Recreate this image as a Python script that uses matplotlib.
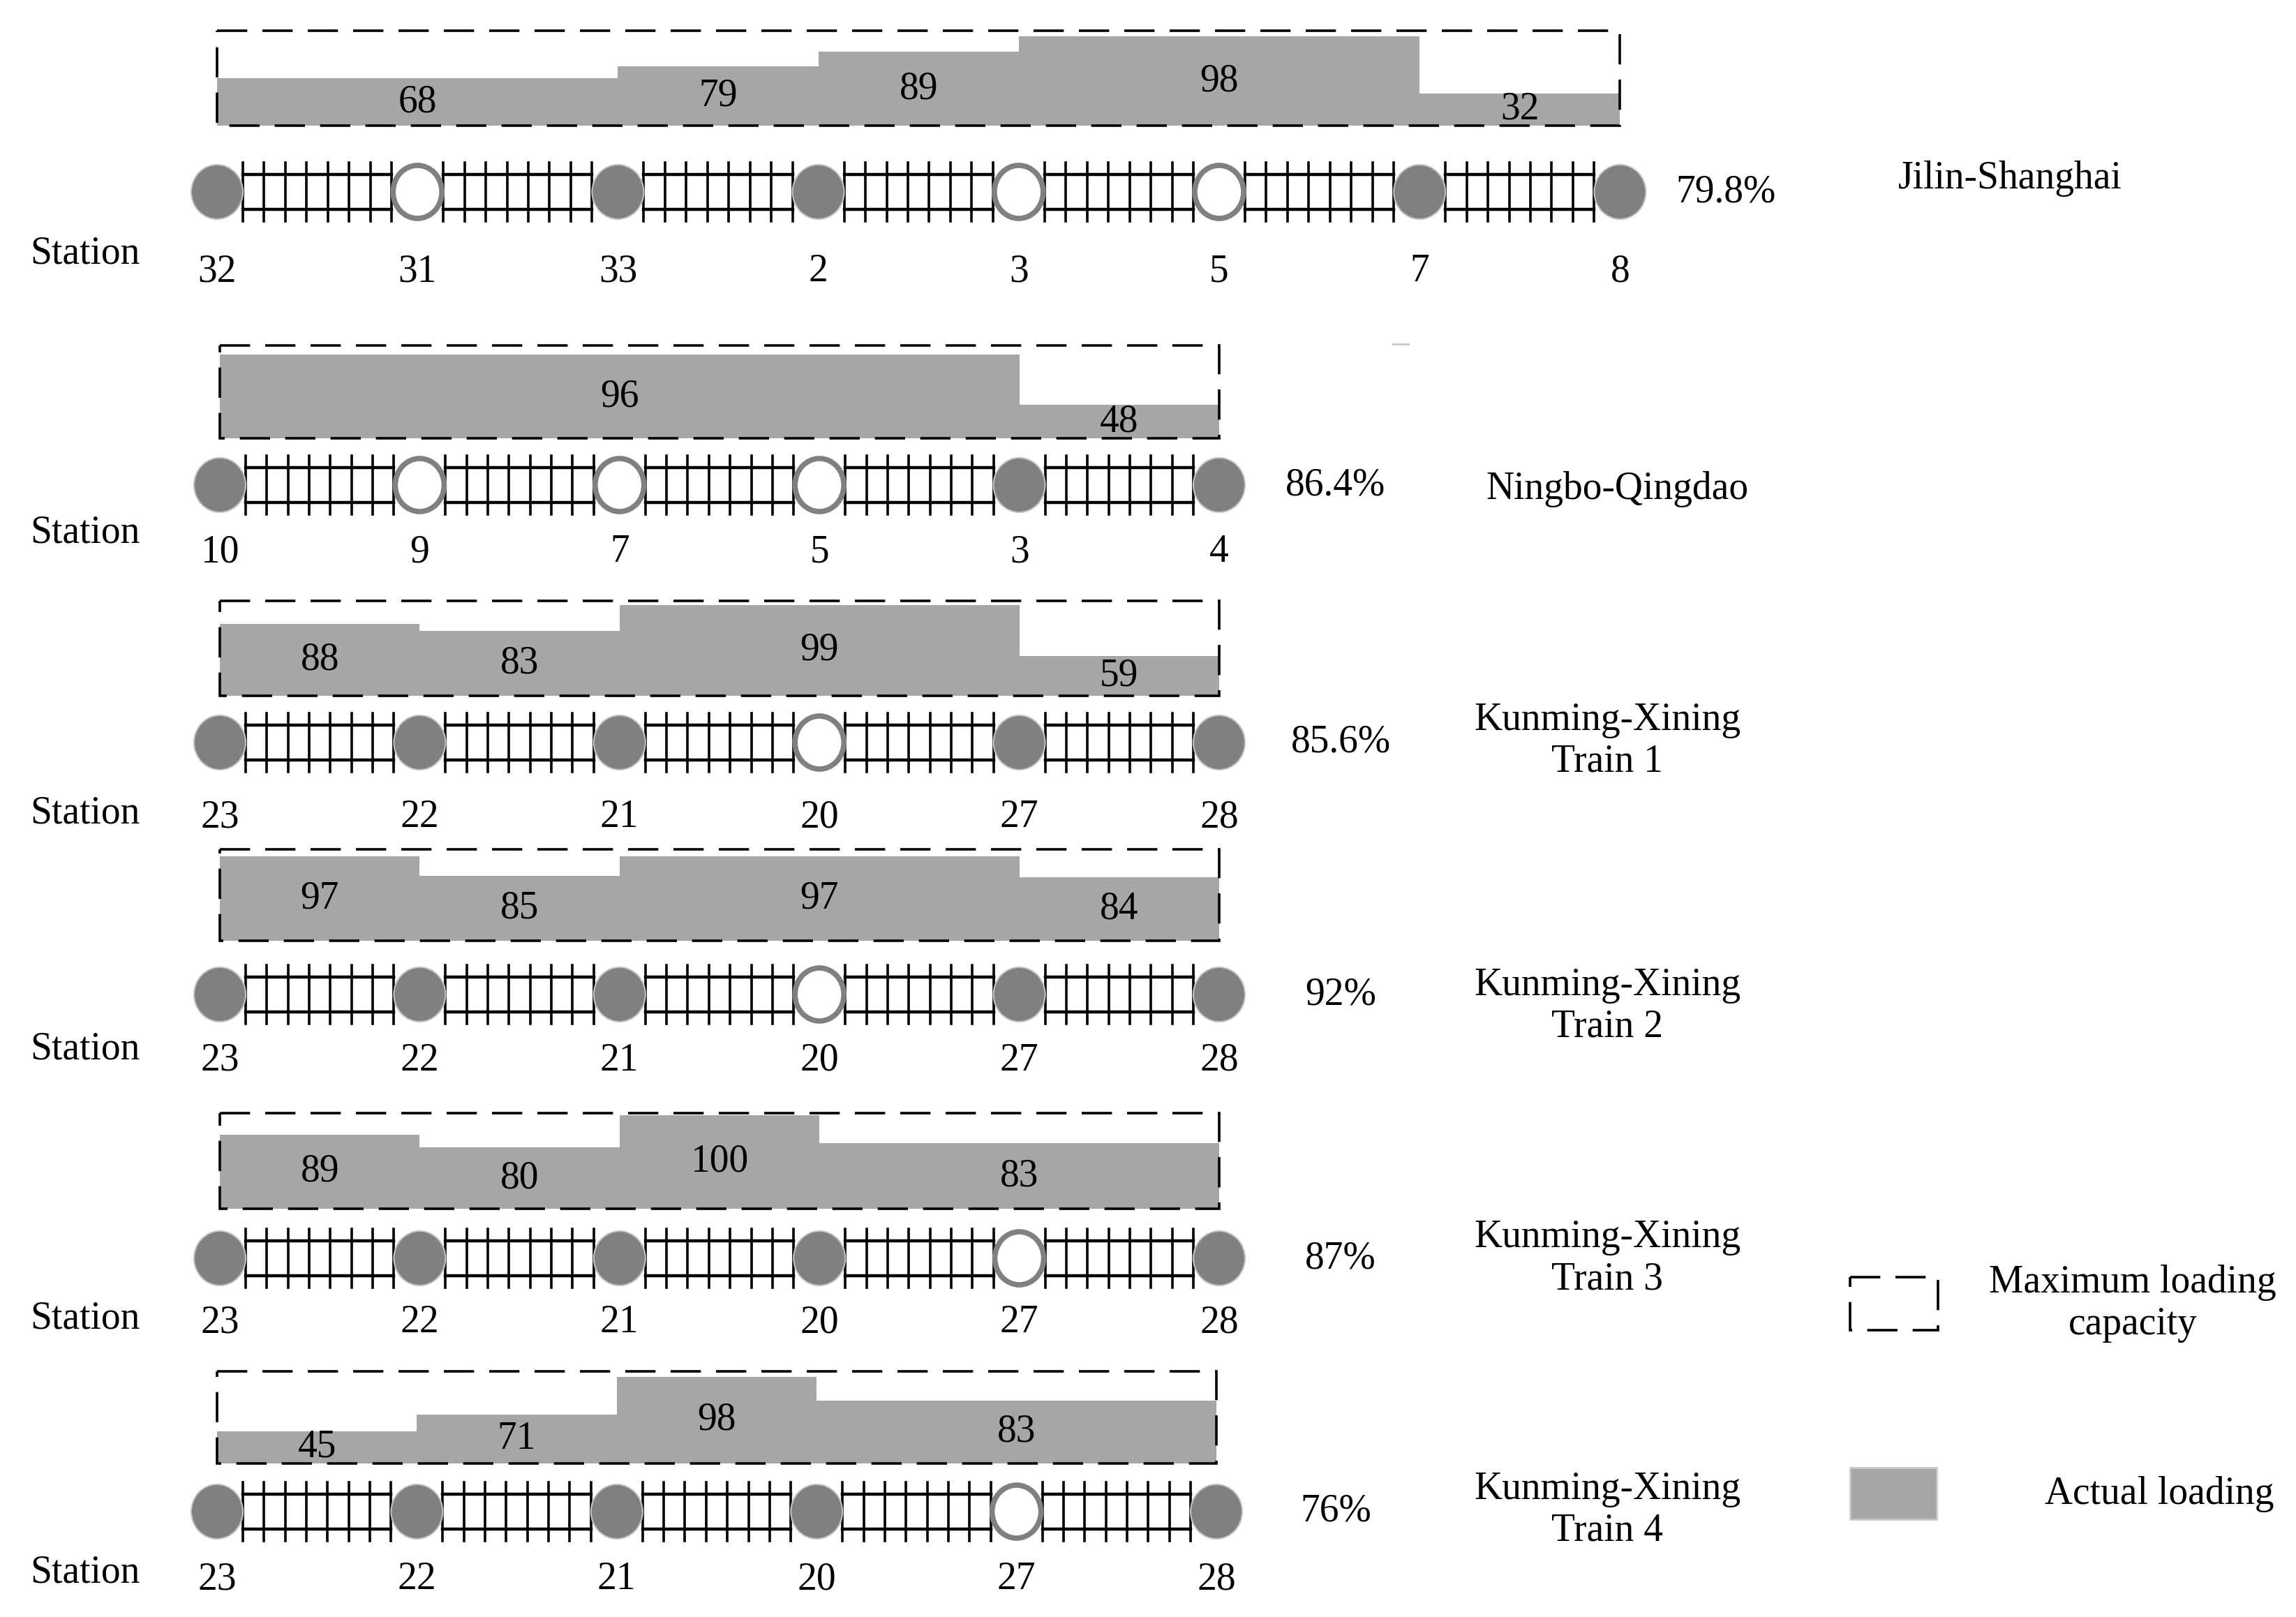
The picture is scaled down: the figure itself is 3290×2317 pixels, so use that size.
import matplotlib.pyplot as plt
from matplotlib.patches import Ellipse, Rectangle

plt.rcParams['font.family'] = ['Liberation Serif', 'DejaVu Serif']

# ---- data ----
routes = ["Jilin-Shanghai", "Ningbo-Qingdao", "Kunming-Xining\nTrain 1",
          "Kunming-Xining\nTrain 2", "Kunming-Xining\nTrain 3", "Kunming-Xining\nTrain 4"]
station_ids = [
    [32, 31, 33, 2, 3, 5, 7, 8],
    [10, 9, 7, 5, 3, 4],
    [23, 22, 21, 20, 27, 28],
    [23, 22, 21, 20, 27, 28],
    [23, 22, 21, 20, 27, 28],
    [23, 22, 21, 20, 27, 28],
]
# stations drawn as hollow circles (no loading / unloading)
open_stations = [[31, 3, 5], [9, 7, 5], [20], [20], [27], [27]]
load_values = [
    [68, 79, 89, 98, 32],
    [96, 48],
    [88, 83, 99, 59],
    [97, 85, 97, 84],
    [89, 80, 100, 83],
    [45, 71, 98, 83],
]
# station index where each loading level starts / ends
load_spans = [
    [0, 2, 3, 4, 6, 7],
    [0, 4, 5],
    [0, 1, 2, 4, 5],
    [0, 1, 2, 4, 5],
    [0, 1, 2, 3, 5],
    [0, 1, 2, 3, 5],
]
rates = ["79.8%", "86.4%", "85.6%", "92%", "87%", "76%"]

# ---- layout (pixels) ----
W, H = 3291, 2317
row_x0 = [311, 315, 315, 315, 315, 311]
row_dx = [287.2, 286.4, 286.4, 286.4, 286.4, 286.4]
box_top = [44, 495, 861, 1217, 1595, 1965]
box_bot = [180, 628, 997, 1348, 1732, 2097]
track_y = [275, 695, 1064, 1425, 1803, 2166]
label_y = [389, 791, 1171, 1520, 1895, 2263]
station_word_y = [363, 764, 1165, 1503, 1889, 2254]
pct_x = [2473, 1914, 1921, 1921, 1921, 1914]
route_x = [2880, 2317, 2303, 2303, 2303, 2303]
route_y = [256, 701, 1062, 1442, 1803, 2164]

FS = 40
BAR_C = '#a6a6a6'
DOT_C = '#808080'
dash = (0, (12, 6))


def bar_frac(v):
    # the original sketch is not drawn to a linear scale; this follows it
    return 0.64 + 0.0138 * (v - 80) + 0.000158 * (v - 80) ** 2


fig = plt.figure(figsize=(W / 100, H / 100), dpi=100)
ax = fig.add_axes([0, 0, 1, 1])
ax.set_xlim(0, W)
ax.set_ylim(H, 0)
ax.axis('off')

r = 37
for i in range(len(routes)):
    xs = [row_x0[i] + k * row_dx[i] for k in range(len(station_ids[i]))]
    bh = box_bot[i] - box_top[i]

    # actual loading as a filled step profile
    edges = [xs[k] for k in load_spans[i]]
    tops = [box_bot[i] - min(bar_frac(v), 1.0) * bh for v in load_values[i]]
    ax.stairs(tops, edges, baseline=box_bot[i], fill=True, color=BAR_C, zorder=1)
    for k, v in enumerate(load_values[i]):
        ax.text((edges[k] + edges[k + 1]) / 2, (tops[k] + box_bot[i]) / 2, str(v),
                fontsize=FS, ha='center', va='center', zorder=3)

    # max capacity box
    ax.add_patch(Rectangle((xs[0], box_top[i]), xs[-1] - xs[0], bh, fill=False,
                           ec='black', lw=2.6, ls=dash, zorder=2))

    # track
    ty = track_y[i]
    for k in range(len(xs) - 1):
        a, b = xs[k] + r, xs[k + 1] - r
        ax.plot([a, b], [ty - 25, ty - 25], color='black', lw=3.2, zorder=2)
        ax.plot([a, b], [ty + 25, ty + 25], color='black', lw=3.2, zorder=2)
        n = 8
        for t in range(n):
            tx = a + (b - a) * t / (n - 1)
            ax.plot([tx, tx], [ty - 42, ty + 42], color='black', lw=2.6, zorder=2)

    # stations
    for k, sid in enumerate(station_ids[i]):
        if sid in open_stations[i]:
            ax.add_patch(Ellipse((xs[k], ty), 70, 76, fc='white', ec=DOT_C, lw=5.5, zorder=4))
        else:
            ax.add_patch(Ellipse((xs[k], ty), 74, 78, fc=DOT_C, ec='#c4c4c4', lw=1.5, zorder=4))
        ax.text(xs[k], label_y[i], str(sid), fontsize=FS, ha='center', va='center')

    ax.text(122, station_word_y[i], "Station", fontsize=FS, ha='center', va='center')
    ax.text(pct_x[i], ty, rates[i], fontsize=FS, ha='center', va='center')
    ax.text(route_x[i], route_y[i], routes[i], fontsize=FS, ha='center', va='center',
            multialignment='center', linespacing=1.2)

# small stray mark in the original
ax.plot([1996, 2018], [493, 493], color='#c8c8c8', lw=2)

# legend
ax.add_patch(Rectangle((2651, 1830), 126, 76, fill=False, ec='black', lw=2.6, ls=dash))
ax.text(3056, 1868, "Maximum loading\ncapacity", fontsize=FS, ha='center', va='center',
        multialignment='center', linespacing=1.2)
ax.add_patch(Rectangle((2651, 2103), 124, 74, fc=BAR_C, ec='#c8c8c8', lw=2))
ax.text(3094, 2141, "Actual loading", fontsize=FS, ha='center', va='center')

fig.savefig('out.png', dpi=100, facecolor='white')
